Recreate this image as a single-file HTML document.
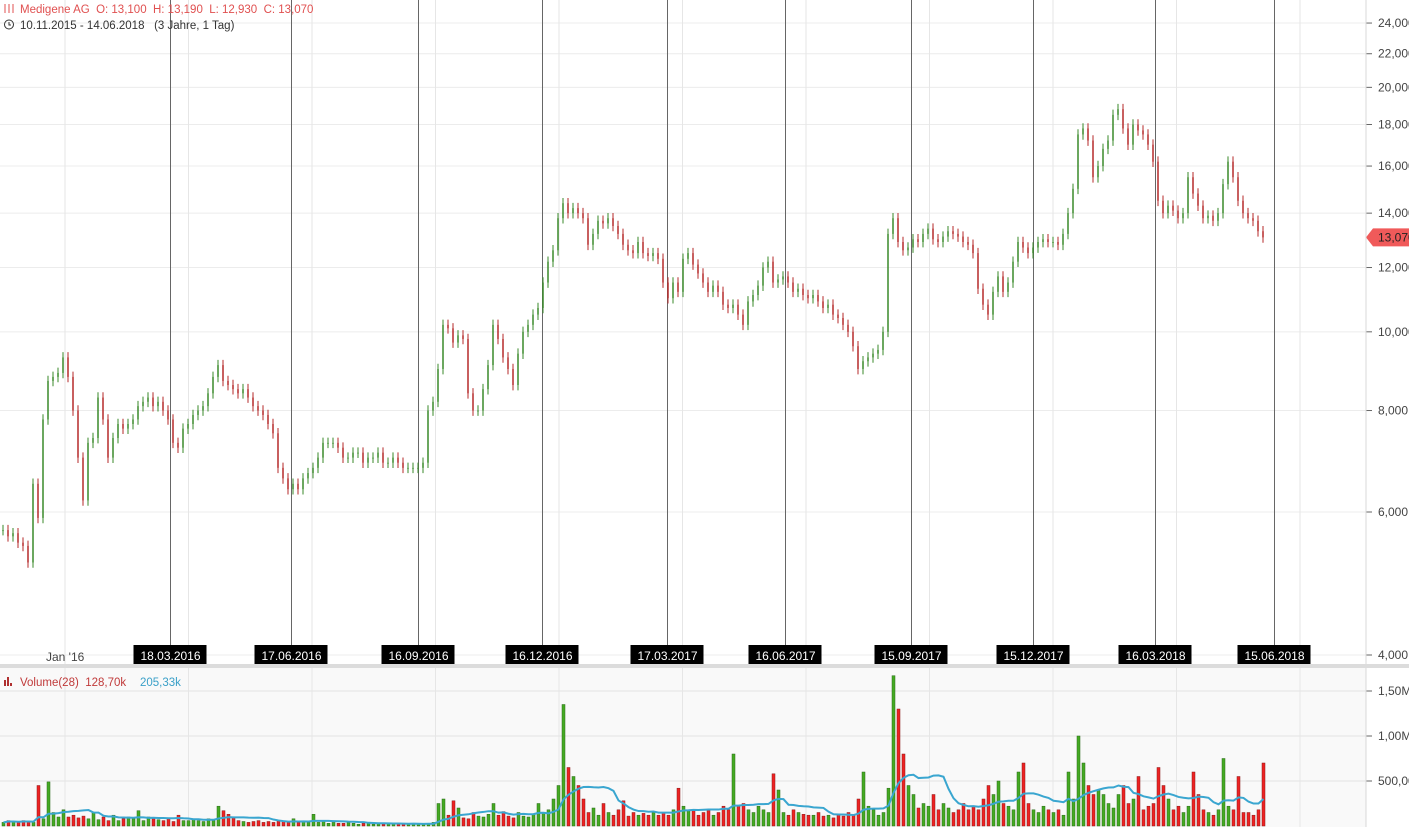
<!DOCTYPE html>
<html><head><meta charset="utf-8"><style>
body{margin:0;background:#fff;font-family:"Liberation Sans",sans-serif;}
svg{display:block}
text{white-space:pre}
</style></head><body>
<svg id="c" width="1409" height="827" xmlns="http://www.w3.org/2000/svg">
<rect x="0" y="666" width="1366" height="161" fill="#f9f9f9"/>
<g id="grid"></g><g id="events"></g><g id="vol"></g><g id="candles"></g><g id="axis"></g>
<line x1="1366" y1="0" x2="1366" y2="827" stroke="#d8d8d8"/>
<rect x="0" y="664" width="1409" height="4" fill="#dcdcdc"/>
<g>
<text x="20" y="13" font-size="11.5" fill="#e05050">Medigene AG  O: 13,100  H: 13,190  L: 12,930  C: 13,070</text>
<g fill="none" stroke="#e05050" stroke-width="1"><path d="M5 4v9M9 4v9M13 4v9"/></g>
<circle cx="9" cy="24.5" r="4.5" fill="none" stroke="#333"/><path d="M9 22v3h2" stroke="#333" fill="none"/>
<text x="20" y="29" font-size="11.5" fill="#333">10.11.2015 - 14.06.2018   (3 Jahre, 1 Tag)</text>
</g>
<g>
<rect x="4" y="680" width="2" height="6" fill="#b03030"/><rect x="7" y="677" width="2" height="9" fill="#b03030"/><rect x="10" y="683" width="2" height="3" fill="#b03030"/>
<text x="20" y="686" font-size="11.5" fill="#c03a3a">Volume(28)  128,70k</text>
<text x="140" y="686" font-size="11.5" fill="#3aa0c8">205,33k</text>
</g>
</svg>
<script>
const priceTicks=[4000,6000,8000,10000,12000,14000,16000,18000,20000,22000,24000];
const priceTickLabels=["4,000","6,000","8,000","10,000","12,000","14,000","16,000","18,000","20,000","22,000","24,000"];
const volTicks=[500000,1000000,1500000];
const volTickLabels=["500,00","1,00M","1,50M"];
const eventDates=["18.03.2016","17.06.2016","16.09.2016","16.12.2016","17.03.2017","16.06.2017","15.09.2017","15.12.2017","16.03.2018","15.06.2018"];
const eventIndex=[33.6,57.8,83.2,108,133,156.6,181.8,206.2,230.6,254.4];
const closes=[5700,5600,5650,5500,5450,5200,6500,5900,7800,8700,8800,8900,9300,8800,8000,7000,6200,7300,7400,8300,7800,7000,7400,7700,7600,7700,7800,8100,8200,8300,8100,8200,8000,7800,7300,7200,7600,7700,7900,8000,8100,8400,8800,9100,8700,8600,8500,8400,8500,8300,8100,8000,7900,7700,7500,6800,6600,6400,6500,6400,6600,6700,6800,7000,7300,7300,7300,7200,7000,7000,7100,7100,6900,7000,7000,7100,6900,6900,7000,6900,6800,6800,6800,6800,6900,8000,8200,9000,10200,10100,9700,9900,9800,8400,8000,8000,8500,9100,10200,9800,9300,9000,8600,9400,10000,10200,10500,10700,11500,12200,12600,13800,14400,14000,14200,14000,13800,12800,13200,13700,13600,13800,13500,13200,12800,12600,12500,12900,12500,12400,12500,12300,11500,11000,11500,11200,12300,12500,12100,11800,11500,11200,11400,11200,10800,10700,10800,10500,10200,10900,11100,11400,12000,12200,11500,11600,11700,11500,11200,11300,11100,11000,11100,10900,10700,10800,10500,10400,10200,10000,9600,9000,9200,9300,9400,9500,10000,13200,13800,12900,12600,12700,13000,12900,13200,13400,13000,12900,13100,13300,13200,13100,12900,12800,12500,11300,10800,10500,11200,11700,11200,11500,12200,12900,12700,12500,12700,12900,13000,12900,12900,12800,13200,14000,15000,17500,17800,17200,15500,16000,16800,17200,18500,18800,17800,17000,18000,17700,17500,17000,16200,14500,14000,14300,14100,13800,14000,15500,14800,14300,13800,13900,13700,14000,15200,16200,15500,14500,14000,13800,13700,13300,13070];
const volumes=[40,60,50,40,60,50,40,450,80,490,150,100,180,100,120,90,110,80,150,70,100,60,120,60,80,100,80,170,60,100,80,70,60,90,50,120,60,60,70,60,50,80,60,220,170,130,100,60,50,40,50,60,40,50,40,60,50,40,80,40,50,40,130,40,60,30,40,30,30,40,30,20,30,40,20,30,20,30,20,30,20,20,30,20,20,30,40,250,300,120,280,200,90,80,150,110,100,130,250,120,160,110,90,150,110,100,130,250,150,180,300,450,1350,650,550,450,300,150,200,120,250,150,120,180,280,110,150,120,140,120,150,120,150,120,180,420,220,180,170,120,150,180,120,150,220,180,800,220,250,180,150,220,180,150,580,400,150,120,180,150,130,120,120,150,110,120,90,120,110,150,120,300,600,220,180,120,150,420,1670,1300,800,450,350,200,250,220,350,180,250,200,150,180,250,180,220,180,300,450,350,500,250,220,180,600,700,250,180,150,220,180,150,180,120,600,300,1000,700,450,350,400,350,250,200,350,450,250,300,550,180,220,250,650,450,300,180,220,150,220,600,350,180,150,120,180,750,220,180,550,150,150,120,180,700,150];
const NS="http://www.w3.org/2000/svg";
const STEP=5;
const xScale=i=>2+i*STEP;
const yPrice=p=>655-352.7*Math.log(p/4000);
const yVol=v=>826-v*0.00009;
function mk(tag,attrs,parent){const e=document.createElementNS(NS,tag);for(const k in attrs)e.setAttribute(k,attrs[k]);parent.appendChild(e);return e;}
const grid=document.getElementById('grid'),axis=document.getElementById('axis'),ev=document.getElementById('events'),cg=document.getElementById('candles'),vg=document.getElementById('vol');
priceTicks.forEach((p,i)=>{const y=yPrice(p);
 const l=mk('line',{x1:0,x2:1366,y1:y,y2:y,stroke:'#ececec'},grid);
 
 
 mk('line',{x1:1366,x2:1372,y1:y,y2:y,stroke:'#666'},axis);
 const t=mk('text',{x:1378,y:y+4,'font-size':12,fill:'#444'},axis);t.textContent=priceTickLabels[i];
 
 });
volTicks.forEach((v,i)=>{const y=yVol(v);
 const l=mk('line',{x1:0,x2:1366,y1:y,y2:y,stroke:'#e2e2e2'},grid);
 
 
 mk('line',{x1:1366,x2:1372,y1:y,y2:y,stroke:'#666'},axis);
 const t=mk('text',{x:1378,y:y+4,'font-size':12,fill:'#444'},axis);t.textContent=volTickLabels[i];
 
 });
for(let k=0;k<11;k++){const x=65+k*123.5;
 const l=mk('line',{x1:x,x2:x,y1:0,y2:827,stroke:'#e6e6e6'},grid);
 
 }
const jt=mk('text',{x:46,y:661,'font-size':12,fill:'#444'},axis);jt.textContent="Jan '16";


eventDates.forEach((d,i)=>{const x=Math.round(xScale(eventIndex[i]))+0.5;
 const l=mk('line',{x1:x,x2:x,y1:0,y2:648,stroke:'#666'},ev);
 
 
 const r=mk('rect',{x:x-37,y:645,width:73,height:20,fill:'#000'},axis);
 
 
 const t=mk('text',{x:x,y:660,'font-size':12,fill:'#fff','text-anchor':'middle'},axis);t.textContent=d;
 
 });
closes.forEach((c,i)=>{const o=i?closes[i-1]:c;const up=c>=o;const x=xScale(i);
 const col=up?'#3a8a2a':'#b52a2a';
 const hi=Math.max(o,c)*1.015,lo=Math.min(o,c)*0.985;
 const w=mk('line',{x1:x+1,x2:x+1,y1:yPrice(hi),y2:yPrice(lo),stroke:col,'stroke-width':1},cg);
 
 
 const y1=yPrice(Math.max(o,c)),y2=yPrice(Math.min(o,c));
 const b=mk('rect',{x:x+0.25,y:y1,width:1.5,height:Math.max(1,y2-y1),fill:col},cg);
 
 
 const v=(volumes[i]||0)*1000;const vy=yVol(v);
 const vb=mk('rect',{x:x,y:vy,width:3,height:826-vy,fill:up?'#44aa22':'#ee2222',stroke:up?'#2a6a1a':'#8a1a1a','stroke-width':0.5},vg);
 
 });
let pts=[];closes.forEach((c,i)=>{const s=volumes.slice(Math.max(0,i-10),i+1);const a=s.reduce((p,q)=>p+q,0)/Math.max(1,s.length);pts.push(xScale(i)+1.5+','+yVol(a*1000));});
const ma=mk('polyline',{points:pts.join(' '),fill:'none',stroke:'#3aa6d0','stroke-width':2},vg);


const last=closes[closes.length-1];const ly=yPrice(last);
const tag=mk('path',{d:`M1366 ${ly} L1373 ${ly-9} H1409 V${ly+9} H1373 Z`,fill:'#f05a5a'},axis);


const lt=mk('text',{x:1378,y:ly+4,'font-size':12,fill:'#222'},axis);lt.textContent='13,070';


</script>
</body></html>
